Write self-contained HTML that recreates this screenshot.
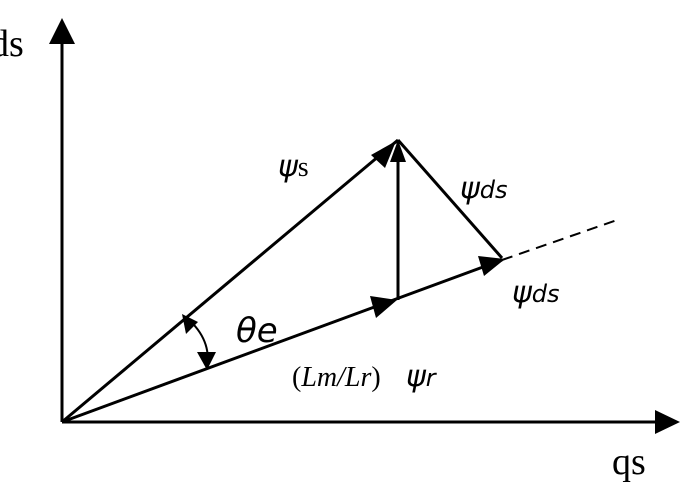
<!DOCTYPE html>
<html><head><style>body{margin:0;background:#fff}</style></head><body>
<svg width="697" height="482" xmlns="http://www.w3.org/2000/svg" style="display:block">
<g stroke="#000" stroke-width="3" fill="none">
<line x1="62" y1="422" x2="62" y2="44"/>
<line x1="62" y1="422" x2="655" y2="422"/>
<line x1="62" y1="422" x2="398" y2="140"/>
<line x1="62" y1="422" x2="502" y2="260"/>
<line x1="502" y1="260" x2="620" y2="219" stroke-dasharray="11,7" stroke-width="2"/>
<line x1="398" y1="300" x2="398" y2="140"/>
<line x1="398" y1="140" x2="502" y2="258"/>
<path d="M187,318 Q212,340 207,368" stroke-width="2"/>
</g>
<g fill="#000">
<polygon points="62,18 49,44 75,44"/>
<polygon points="680,422 655,410 655,434"/>
<polygon points="396,141 371,155 385,168"/>
<polygon points="398,140 390,162 406,162"/>
<polygon points="397,300 370,296 376,318"/>
<polygon points="505,259 478,256 484,276"/>
<polygon points="182,314 186,334 198,322"/>
<polygon points="207,370 197,352 216,352"/>
</g>
<g font-family="Liberation Serif, serif" font-size="38">
<text x="-10" y="56">ds</text>
<text x="612" y="474">qs</text>
<g font-family="DejaVu Sans, sans-serif" font-style="italic">
<text x="278" y="176" font-size="30">ψ<tspan font-family="Liberation Serif, serif" font-style="normal" font-size="28">s</tspan></text>
<text x="460" y="198" font-size="30">ψ<tspan font-size="24">ds</tspan></text>
<text x="512" y="302" font-size="30">ψ<tspan font-size="24">ds</tspan></text>
<text x="236" y="342" font-size="34">θe</text>
<text x="406" y="386" font-size="30">ψ<tspan font-size="24">r</tspan></text>
</g>
<text x="292" y="386" font-size="28" font-style="italic"><tspan font-style="normal">(</tspan>Lm/Lr<tspan font-style="normal">)</tspan></text>
</g>
</svg>
</body></html>
